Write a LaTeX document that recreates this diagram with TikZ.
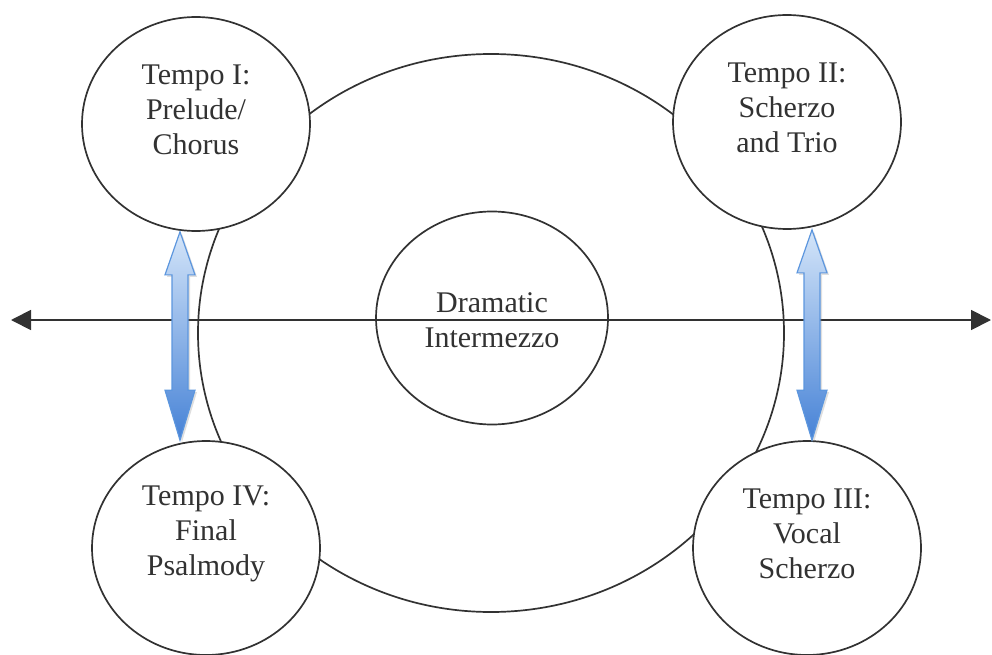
\documentclass[tikz,border=0pt]{standalone}
\usepackage{fontspec}
\setmainfont{Liberation Serif}
\usetikzlibrary{arrows.meta,shapes.geometric,calc,shadows}
\definecolor{inkgray}{RGB}{50,50,50}
\definecolor{arrowlight}{RGB}{212,229,249}
\definecolor{arrowdark}{RGB}{70,130,214}
\definecolor{arrowedge}{RGB}{92,150,222}
\newcommand{\tempofont}{\rmfamily\fontsize{30}{35}\selectfont}
\newcommand{\swaparrow}[2]{%
  \path[swap] let \p1=#1, \p2=#2 in
    (\x1,\y1) -- (\x1+15pt,\y1-43pt) -- (\x1+8pt,\y1-43pt) --
    (\x1+8pt,\y2+50pt) -- (\x1+15pt,\y2+50pt) -- (\x1,\y2) --
    (\x1-15pt,\y2+50pt) -- (\x1-8pt,\y2+50pt) --
    (\x1-8pt,\y1-43pt) -- (\x1-15pt,\y1-43pt) -- cycle;}

\begin{document}
\begin{tikzpicture}[x=1pt, y=-1pt,
  every node/.style={font=\tempofont, text=inkgray},
  ring/.style={draw=inkgray, line width=1.7pt, ellipse, inner sep=0pt},
  tempo/.style={ring, fill=white, minimum width=228pt, minimum height=214pt},
  tlabel/.style={align=center, yshift=14pt},
  axis/.style={{Triangle[length=20pt,width=20pt]}-{Triangle[length=20pt,width=20pt]},
               line width=1.8pt, draw=inkgray},
  swap/.style={top color=arrowlight, bottom color=arrowdark, draw=arrowedge,
               line width=1.2pt,
               drop shadow={opacity=0.25, shadow xshift=2pt, shadow yshift=-2pt}}]
  \useasboundingbox (0,0) rectangle (992,655);
  \node[ring, minimum width=586pt, minimum height=558pt] (orbit) at (491,333) {};
  \node[tempo, label={[tlabel]center:{Tempo I:\\Prelude/\\Chorus}}] (t1) at (196,124) {};
  \node[tempo, label={[tlabel]center:{Tempo II:\\Scherzo\\and Trio}}] (t2) at (787,122) {};
  \node[tempo, label={[tlabel]center:{Tempo III:\\Vocal\\Scherzo}}] (t3) at (807,548) {};
  \node[tempo, label={[tlabel]center:{Tempo IV:\\Final\\Psalmody}}] (t4) at (206,548) {};
  \node[tempo, minimum width=232pt, minimum height=213pt,
        label={[align=center, yshift=-2pt]center:{Dramatic\\Intermezzo}}] (mid) at (492,318) {};
  \coordinate (west) at (11,320);
  \coordinate (east) at (991,320);
  \draw[axis] (west) -- (east);
  \swaparrow{($(t1.south)+(-16,0)$)}{($(t4.north)+(-26,0)$)}
  \swaparrow{($(t2.south)+(25,0)$)}{($(t3.north)+(5,0)$)}
\end{tikzpicture}
\end{document}
